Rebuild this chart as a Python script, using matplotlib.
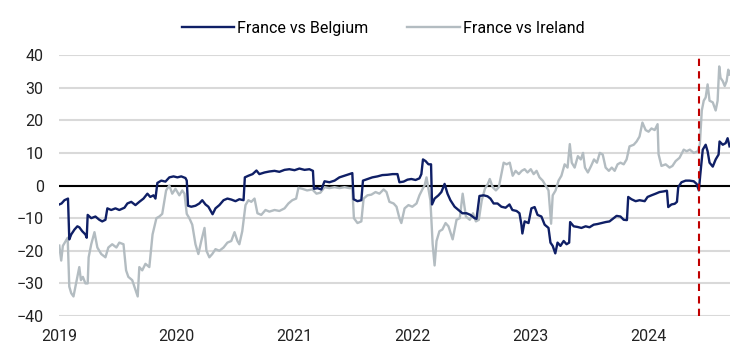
import matplotlib.pyplot as plt
import matplotlib.dates as mdates
import pandas as pd

# France vs Belgium spread
belgium_dates = [
    "2019-01-02", "2019-01-09", "2019-01-18", "2019-01-29", "2019-02-02", "2019-02-08",
    "2019-02-18", "2019-02-27", "2019-03-05", "2019-03-14", "2019-03-24", "2019-03-28",
    "2019-03-31", "2019-04-11", "2019-04-24", "2019-05-06", "2019-05-15", "2019-05-25",
    "2019-05-31", "2019-06-12", "2019-06-25", "2019-07-07", "2019-07-23", "2019-08-01",
    "2019-08-13", "2019-08-26", "2019-09-07", "2019-09-20", "2019-10-02", "2019-10-11",
    "2019-10-21", "2019-10-27", "2019-11-02", "2019-11-14", "2019-11-27", "2019-12-09",
    "2019-12-22", "2020-01-03", "2020-01-15", "2020-01-28", "2020-02-01", "2020-02-05",
    "2020-02-15", "2020-02-28", "2020-03-11", "2020-03-20", "2020-03-30", "2020-04-08",
    "2020-04-21", "2020-04-30", "2020-05-12", "2020-05-25", "2020-06-06", "2020-06-18",
    "2020-07-01", "2020-07-13", "2020-07-26", "2020-07-30", "2020-08-10", "2020-08-23",
    "2020-09-04", "2020-09-13", "2020-09-29", "2020-10-14", "2020-10-30", "2020-11-14",
    "2020-11-30", "2020-12-15", "2020-12-31", "2021-01-15", "2021-01-31", "2021-02-15",
    "2021-02-26", "2021-03-01", "2021-03-12", "2021-03-24", "2021-04-03", "2021-04-18",
    "2021-05-04", "2021-05-19", "2021-06-04", "2021-06-19", "2021-06-28", "2021-07-02",
    "2021-07-14", "2021-07-26", "2021-07-31", "2021-08-14", "2021-08-29", "2021-09-14",
    "2021-09-29", "2021-10-15", "2021-10-31", "2021-11-15", "2021-11-21", "2021-12-04",
    "2021-12-16", "2021-12-28", "2022-01-10", "2022-01-22", "2022-01-28", "2022-02-02",
    "2022-02-10", "2022-02-19", "2022-02-27", "2022-03-02", "2022-03-10", "2022-03-22",
    "2022-03-31", "2022-04-10", "2022-04-19", "2022-04-28", "2022-05-11", "2022-05-23",
    "2022-06-04", "2022-06-17", "2022-06-29", "2022-07-12", "2022-07-18", "2022-07-27",
    "2022-08-09", "2022-08-21", "2022-08-30", "2022-09-09", "2022-09-21", "2022-10-03",
    "2022-10-16", "2022-10-28", "2022-11-06", "2022-11-19", "2022-11-28", "2022-12-04",
    "2022-12-07", "2022-12-14", "2022-12-26", "2023-01-04", "2023-01-14", "2023-01-23",
    "2023-02-04", "2023-02-14", "2023-02-26", "2023-03-04", "2023-03-11", "2023-03-19",
    "2023-03-26", "2023-04-04", "2023-04-14", "2023-04-23", "2023-05-01", "2023-05-04",
    "2023-05-15", "2023-05-27", "2023-06-08", "2023-06-21", "2023-07-03", "2023-07-16",
    "2023-07-28", "2023-08-09", "2023-08-22", "2023-09-03", "2023-09-16", "2023-09-25",
    "2023-10-07", "2023-10-17", "2023-10-27", "2023-10-31", "2023-11-10", "2023-11-23",
    "2023-12-05", "2023-12-21", "2023-12-30", "2024-01-11", "2024-01-24", "2024-02-05",
    "2024-02-18", "2024-02-28", "2024-03-03", "2024-03-13", "2024-03-23", "2024-03-30",
    "2024-04-03", "2024-04-13", "2024-04-26", "2024-05-08", "2024-05-21", "2024-05-30",
    "2024-06-06", "2024-06-10", "2024-06-18", "2024-06-27", "2024-07-03", "2024-07-09",
    "2024-07-19", "2024-07-28", "2024-08-06", "2024-08-09", "2024-08-19", "2024-08-28",
    "2024-09-03", "2024-09-09",
]
belgium = [
    -5.8, -5.5, -4.5, -4.0, -16.5, -15, -13.5, -12.5, -12.8, -14, -15, -16,
    -9, -10, -9.5, -10.5, -11, -10.5, -7, -7.5, -7, -7.5, -6.8, -5.5,
    -5, -6, -5, -4, -2.5, -3.5, -3, -4, 0.8, 1.5, 1.2, 2.5,
    2.8, 2.5, 2.8, 2.3, 1.5, -6.2, -6.5, -6.2, -5.5, -4.5, -5.8, -6.5,
    -8.8, -7, -6, -4.5, -4, -4.3, -4.8, -4.2, -4.5, 2.5, 3, 3.5,
    4.6, 3.5, 4, 4.3, 4.5, 4.2, 4.8, 5, 4.7, 5.2, 4.8, 5,
    4.5, -1, -0.8, -1.2, 1.3, 1, 1.5, 2.5, 3, 3.5, 3.8, -4.2,
    -4.8, -4.5, 1.5, 2, 2.5, 2.8, 3.2, 3.3, 3.5, 3.5, 1, 1.2,
    1.8, 2, 1.7, 2.2, 3.5, 8, 7.5, 6.5, 6.5, -5.8, -4, -3,
    -2, 0.5, -2.5, -4.5, -6.5, -7.5, -8.5, -8.5, -9, -10, -10.2, -3.2,
    -3, -3.3, -4, -5.5, -5.5, -6.5, -6.8, -5.8, -7.5, -7.8, -8.5, -12,
    -14.7, -11, -11.5, -7, -6.6, -9, -9.5, -12, -13, -17.5, -18.5, -20.8,
    -17.5, -18.5, -17, -18, -17.5, -11.2, -12.5, -12.7, -13, -12.5, -12.8, -12,
    -11.8, -11.5, -11.2, -11, -10, -9.3, -9.5, -10.5, -10.6, -3.5, -4.2, -4.8,
    -4.5, -4.8, -3.5, -3, -2.5, -2, -1.8, -1.6, -6.6, -5.8, -5.6, -5,
    -0.5, 1, 1.5, 1.5, 1.3, 0.5, -1.5, 3, 11, 12.5, 10.5, 7,
    5.8, 8, 9.5, 13.5, 12.5, 13, 14.5, 12,
]

# France vs Ireland spread
ireland_dates = [
    "2019-01-02", "2019-01-08", "2019-01-13", "2019-01-22", "2019-01-28", "2019-02-02",
    "2019-02-08", "2019-02-15", "2019-02-23", "2019-03-05", "2019-03-10", "2019-03-16",
    "2019-03-24", "2019-03-31", "2019-04-03", "2019-04-11", "2019-04-21", "2019-04-30",
    "2019-05-12", "2019-05-25", "2019-06-03", "2019-06-15", "2019-06-28", "2019-07-07",
    "2019-07-20", "2019-07-28", "2019-08-04", "2019-08-16", "2019-08-26", "2019-09-02",
    "2019-09-07", "2019-09-16", "2019-09-26", "2019-10-08", "2019-10-18", "2019-10-30",
    "2019-11-08", "2019-11-17", "2019-11-29", "2019-12-09", "2019-12-18", "2019-12-28",
    "2020-01-09", "2020-01-18", "2020-01-25", "2020-02-01", "2020-02-09", "2020-02-18",
    "2020-02-28", "2020-03-08", "2020-03-17", "2020-03-27", "2020-04-02", "2020-04-11",
    "2020-04-20", "2020-04-30", "2020-05-12", "2020-05-25", "2020-06-06", "2020-06-18",
    "2020-06-28", "2020-07-07", "2020-07-13", "2020-07-22", "2020-08-01", "2020-08-10",
    "2020-08-19", "2020-08-29", "2020-09-07", "2020-09-19", "2020-10-02", "2020-10-14",
    "2020-10-30", "2020-11-14", "2020-11-30", "2020-12-12", "2020-12-24", "2021-01-05",
    "2021-01-12", "2021-01-24", "2021-02-08", "2021-02-24", "2021-03-09", "2021-03-21",
    "2021-04-03", "2021-04-18", "2021-05-04", "2021-05-19", "2021-06-04", "2021-06-19",
    "2021-06-28", "2021-07-03", "2021-07-14", "2021-07-26", "2021-08-02", "2021-08-14",
    "2021-08-26", "2021-09-08", "2021-09-20", "2021-10-03", "2021-10-12", "2021-10-21",
    "2021-11-03", "2021-11-12", "2021-11-21", "2021-11-27", "2021-12-07", "2021-12-19",
    "2021-12-31", "2022-01-13", "2022-01-22", "2022-02-01", "2022-02-07", "2022-02-13",
    "2022-02-19", "2022-02-25", "2022-03-04", "2022-03-10", "2022-03-16", "2022-03-25",
    "2022-04-03", "2022-04-13", "2022-04-22", "2022-05-05", "2022-05-17", "2022-05-27",
    "2022-06-05", "2022-06-15", "2022-06-27", "2022-07-07", "2022-07-16", "2022-07-25",
    "2022-08-03", "2022-08-13", "2022-08-22", "2022-08-28", "2022-09-06", "2022-09-16",
    "2022-09-25", "2022-10-04", "2022-10-10", "2022-10-19", "2022-10-29", "2022-11-07",
    "2022-11-16", "2022-11-26", "2022-12-05", "2022-12-14", "2022-12-23", "2023-01-02",
    "2023-01-11", "2023-01-20", "2023-01-29", "2023-02-08", "2023-02-17", "2023-02-26",
    "2023-03-06", "2023-03-11", "2023-03-20", "2023-03-29", "2023-04-07", "2023-04-17",
    "2023-04-26", "2023-05-03", "2023-05-09", "2023-05-18", "2023-05-28", "2023-06-06",
    "2023-06-13", "2023-06-19", "2023-06-28", "2023-07-08", "2023-07-17", "2023-07-26",
    "2023-08-04", "2023-08-13", "2023-08-22", "2023-09-01", "2023-09-10", "2023-09-19",
    "2023-09-28", "2023-10-07", "2023-10-17", "2023-10-26", "2023-11-04", "2023-11-17",
    "2023-11-26", "2023-12-05", "2023-12-14", "2023-12-24", "2024-01-02", "2024-01-11",
    "2024-01-21", "2024-01-30", "2024-02-02", "2024-02-11", "2024-02-24", "2024-03-07",
    "2024-03-16", "2024-03-26", "2024-04-07", "2024-04-20", "2024-04-29", "2024-05-09",
    "2024-05-21", "2024-06-03", "2024-06-09", "2024-06-15", "2024-06-21", "2024-06-27",
    "2024-07-03", "2024-07-09", "2024-07-19", "2024-07-28", "2024-08-03", "2024-08-08",
    "2024-08-12", "2024-08-19", "2024-08-25", "2024-08-31", "2024-09-05", "2024-09-09",
]
ireland = [
    -18.4, -23, -18.5, -17, -16, -31, -33, -34, -30, -25, -29, -28,
    -30, -30, -22, -18, -14.3, -19, -21, -22, -19, -18, -19, -17.5,
    -18, -26, -28, -29, -32, -34, -25, -26, -24, -25, -15, -10,
    -9.5, -8.7, -1.5, 0, -2.5, -1, -3, -1.5, -2.5, -8.7, -10, -12,
    -18, -21, -17, -13, -20, -22, -21, -19.5, -20, -19, -17.5, -17,
    -14.3, -17, -18, -14, -6, -4.5, -5, -4, -8.5, -9, -7.5, -8,
    -7.5, -7.8, -7, -5.5, -4.5, -4, -0.7, -1, -1.5, -1.2, -2.5, -2.2,
    -0.5, -0.8, -0.5, -0.8, -0.5, -0.8, -0.8, -10, -11.5, -11, -4, -3,
    -2.8, -2, -2.5, -1.2, -2, -5, -5.5, -6.5, -10, -11.5, -7, -6,
    -6.5, -5.5, -3, -1, 0, 2.5, -1, -4.6, -18, -24.5, -17, -14,
    -13.5, -11.5, -12.5, -16.5, -10.5, -10, -2.5, -9.5, -10.5, -8.5, -11, -10.5,
    -4.6, -1, 0.5, 2, -0.5, -1.5, -0.5, 4, 7, 6.5, 7, 3,
    4.5, 3.5, 4.5, 5, 4, 5, 3.5, 4.5, 2.5, 1.5, 0, -1.5,
    -11.7, -3, -1.5, 1.5, 3, 6.5, 5.5, 12.7, 7, 5.5, 9, 8,
    10, 5.5, 4, 6, 8, 7, 10, 9.5, 5.5, 4.5, 5.5, 4.5,
    6.5, 7, 6.5, 8, 12, 12.5, 13.5, 15, 19.3, 17, 16.5, 17.5,
    17, 18.8, 9.6, 6, 6.5, 5.5, 6, 7.5, 8.5, 11, 10.5, 11,
    10, 10.5, 12.7, 23, 26, 27, 31, 26, 25.5, 23, 26, 36.5,
    33, 32, 30.5, 32, 35.5, 34,
]

event_date = "2024-06-07"
years = [2019, 2020, 2021, 2022, 2023, 2024]

plt.rcParams['font.family'] = ['Roboto', 'DejaVu Sans']

fig = plt.figure(figsize=(7.54, 3.62), dpi=100)
ax = fig.add_axes([0.0782, 0.127, 0.8898, 0.721])

navy = '#0f1f66'
grey = '#b3bcc1'

ax.plot(pd.to_datetime(ireland_dates), ireland, color=grey, lw=1.7, label='France vs Ireland', zorder=3)
ax.plot(pd.to_datetime(belgium_dates), belgium, color=navy, lw=1.7, label='France vs Belgium', zorder=4)
ax.axhline(0, color='black', lw=1.5, zorder=2)
ax.axvline(pd.Timestamp(event_date), color='#c00000', lw=1.5, ls=(0, (3.5, 2.5)), zorder=5)

ax.set_xlim(pd.Timestamp("2019-01-01"), pd.Timestamp("2024-09-10"))
ax.set_ylim(-40, 40)
ax.set_yticks(range(-40, 41, 10))
ax.set_xticks([pd.Timestamp(f"{y}-01-01") for y in years])
ax.xaxis.set_major_formatter(mdates.DateFormatter('%Y'))
ax.grid(axis='y', color='#d9d9d9', lw=1.5, zorder=0)
ax.set_axisbelow(True)
for s in ax.spines.values():
    s.set_visible(False)
ax.tick_params(axis='both', length=0, labelsize=11.5, colors='#222222')
ax.tick_params(axis='y', pad=11)
ax.tick_params(axis='x', pad=9)

handles, labels = ax.get_legend_handles_labels()
fig.legend(handles[::-1], labels[::-1], loc='center', bbox_to_anchor=(0.508, 0.922), ncol=2,
           frameon=False, fontsize=11.5, handlelength=3.3, handletextpad=0.2, columnspacing=2.4)

fig.savefig('out.png', dpi=100)
